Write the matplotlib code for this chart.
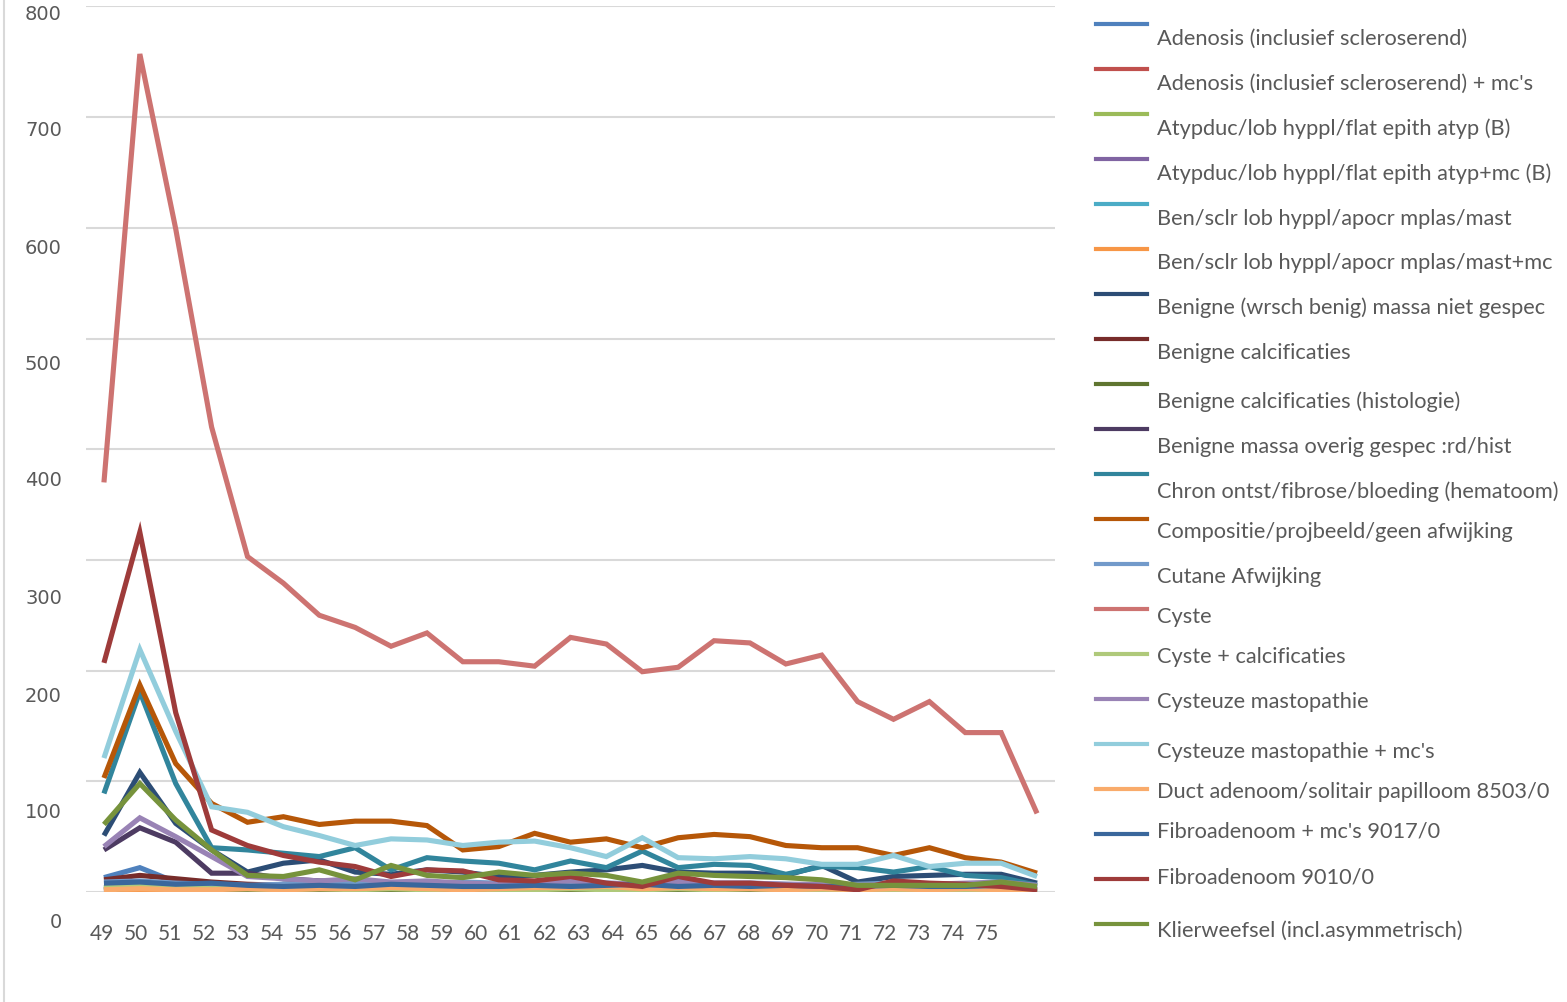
import matplotlib
matplotlib.use("Agg")
import matplotlib.pyplot as plt
from matplotlib.lines import Line2D
import numpy as np

W, H = 1567, 1002
AGES = np.arange(49, 76)

# counts per age, one list per diagnosis
adenosis = [13, 22, 9, 6, 5, 7, 6, 5, 8, 6, 5, 4, 6, 5, 4, 6, 5, 4, 5, 4, 5, 4, 6, 4, 5, 4, 3]
adenosis_mc = [3, 4, 3, 2, 2, 3, 2, 2, 3, 2, 2, 2, 3, 2, 2, 2, 3, 2, 2, 2, 2, 2, 3, 2, 2, 2, 1]
atyp = [2, 3, 2, 1, 1, 2, 1, 1, 2, 1, 1, 1, 2, 1, 1, 1, 1, 1, 2, 1, 1, 1, 1, 1, 1, 1, 0]
atyp_mc = [1, 2, 1, 1, 1, 1, 1, 0, 1, 1, 0, 1, 1, 1, 0, 1, 1, 0, 1, 1, 0, 1, 1, 0, 1, 1, 0]
ben_sclr = [4, 5, 3, 3, 2, 3, 3, 4, 2, 3, 2, 3, 2, 3, 2, 2, 3, 2, 3, 2, 2, 3, 2, 2, 3, 2, 1]
ben_sclr_mc = [1, 1, 1, 0, 1, 1, 0, 1, 1, 0, 1, 1, 0, 1, 1, 0, 1, 1, 0, 1, 0, 1, 1, 0, 1, 0, 0]
benigne_wrsch = [51, 108, 62, 38, 18, 26, 29, 18, 16, 20, 18, 14, 15, 18, 20, 24, 18, 17, 17, 15, 24, 9, 14, 15, 16, 16, 8]
benigne_calc = [11, 15, 12, 9, 7, 6, 5, 6, 5, 4, 5, 6, 4, 5, 4, 3, 5, 4, 3, 4, 3, 3, 4, 3, 3, 2, 2]
benigne_calc_hist = [2, 4, 3, 2, 2, 1, 2, 2, 1, 2, 1, 1, 2, 1, 2, 1, 1, 2, 1, 1, 2, 1, 1, 1, 1, 1, 0]
benigne_overig = [38, 58, 45, 17, 17, 12, 10, 9, 8, 9, 7, 6, 7, 6, 5, 6, 5, 5, 6, 5, 4, 4, 5, 4, 4, 3, 2]
chron = [89, 181, 98, 40, 38, 35, 32, 40, 20, 31, 28, 26, 20, 28, 22, 37, 22, 25, 24, 16, 23, 22, 18, 23, 15, 13, 6]
compositie = [103, 187, 116, 80, 63, 68, 61, 64, 64, 60, 38, 41, 53, 45, 48, 40, 49, 52, 50, 42, 40, 40, 33, 40, 31, 27, 17]
cutane = [9, 10, 8, 7, 6, 7, 8, 9, 7, 8, 9, 8, 7, 9, 8, 7, 10, 8, 8, 7, 6, 7, 8, 7, 6, 7, 5]
cyste = [370, 757, 599, 420, 303, 279, 250, 239, 222, 234, 208, 208, 204, 230, 224, 199, 203, 227, 225, 206, 214, 172, 156, 172, 144, 144, 71]
cyste_calc = [4, 6, 4, 3, 3, 2, 3, 2, 3, 2, 3, 2, 2, 3, 2, 2, 3, 2, 3, 2, 2, 2, 2, 2, 2, 2, 1]
cyst_mast = [41, 67, 50, 32, 14, 12, 10, 12, 9, 10, 8, 7, 8, 10, 8, 7, 9, 8, 8, 7, 7, 6, 7, 7, 8, 9, 6]
cyst_mast_mc = [121, 219, 145, 77, 72, 59, 51, 42, 48, 47, 42, 45, 46, 40, 32, 49, 31, 30, 32, 30, 25, 25, 33, 23, 26, 26, 14]
duct = [2, 3, 2, 2, 3, 2, 3, 3, 4, 3, 2, 3, 4, 4, 5, 3, 4, 3, 3, 2, 3, 2, 3, 2, 3, 2, 1]
fibro_mc = [8, 9, 7, 8, 6, 5, 6, 5, 7, 6, 5, 5, 6, 5, 6, 7, 5, 6, 5, 6, 5, 5, 6, 5, 5, 6, 4]
fibro = [207, 325, 162, 56, 42, 33, 27, 23, 14, 20, 19, 11, 10, 14, 8, 5, 14, 8, 8, 6, 5, 2, 10, 8, 7, 5, 2]
klier = [61, 98, 65, 38, 15, 14, 20, 11, 24, 15, 13, 18, 15, 17, 15, 9, 17, 15, 14, 13, 11, 6, 6, 6, 6, 9, 5]

names = [
    "Adenosis (inclusief scleroserend)",
    "Adenosis (inclusief scleroserend) + mc's",
    "Atypduc/lob hyppl/flat epith atyp (B)",
    "Atypduc/lob hyppl/flat epith atyp+mc (B)",
    "Ben/sclr lob hyppl/apocr mplas/mast",
    "Ben/sclr lob hyppl/apocr mplas/mast+mc",
    "Benigne (wrsch benig) massa niet gespec",
    "Benigne calcificaties",
    "Benigne calcificaties (histologie)",
    "Benigne massa overig gespec :rd/hist",
    "Chron ontst/fibrose/bloeding (hematoom)",
    "Compositie/projbeeld/geen afwijking",
    "Cutane Afwijking",
    "Cyste",
    "Cyste + calcificaties",
    "Cysteuze mastopathie",
    "Cysteuze mastopathie + mc's",
    "Duct adenoom/solitair papilloom 8503/0",
    "Fibroadenoom + mc's 9017/0",
    "Fibroadenoom 9010/0",
    "Klierweefsel (incl.asymmetrisch)",
]
series = [adenosis, adenosis_mc, atyp, atyp_mc, ben_sclr, ben_sclr_mc,
          benigne_wrsch, benigne_calc, benigne_calc_hist, benigne_overig,
          chron, compositie, cutane, cyste, cyste_calc, cyst_mast,
          cyst_mast_mc, duct, fibro_mc, fibro, klier]
colors = ["#4F81BD", "#C0504D", "#9BBB59", "#8064A2", "#4BACC6", "#F79646",
          "#2C4D75", "#772C2A", "#5F7530", "#4D3B62", "#31859C", "#B65708",
          "#729ACA", "#CD7371", "#AFC97A", "#9983B5", "#92CDDC", "#F9AB6B",
          "#3A679C", "#9E3B3A", "#77933C"]

TEXT = "#595959"
GRID = "#D9D9D9"
FONT = "Lato"

fig = plt.figure(figsize=(W / 100, H / 100), dpi=100)


def fx(px):
    return px / W


def fy(py):
    return 1 - py / H


# plot area
top, bottom, left, right = 6.4, 892, 86, 1055
ax = fig.add_axes([fx(left), fy(bottom), fx(right - left), (bottom - top) / H])
for s, c in zip(series, colors):
    ax.plot(AGES, s, color=c, lw=3.7, solid_joinstyle="miter", solid_capstyle="butt")
ax.set_xlim(48.5, 75.5)
ax.set_ylim(0, 800)
ax.set_yticks(range(0, 801, 100))
ax.grid(axis="y", color=GRID, lw=1.5)
ax.set_axisbelow(True)
ax.tick_params(length=0, labelleft=False, labelbottom=False)
for sp in ax.spines.values():
    sp.set_visible(False)

# y labels
ylab_pos = [922, 812, 697, 598, 481, 364, 248, 130, 14]
for py, v in zip(ylab_pos, range(0, 801, 100)):
    fig.text(fx(62), fy(py), str(v), ha="right", va="center", fontsize=14,
             color=TEXT, family="DejaVu Sans")

# x labels
xlab = fig.add_axes([fx(102), fy(931), fx(987 - 102), 0.0001])
xlab.set_xlim(49, 75)
xlab.set_xticks(AGES)
xlab.set_xticklabels([str(a) for a in AGES], fontsize=15, color=TEXT, family=FONT)
xlab.tick_params(length=0, pad=-5, left=False, labelleft=False)
xlab.patch.set_visible(False)
for sp in xlab.spines.values():
    sp.set_visible(False)

# legend drawn by hand: handle above, label below
text_y = [39, 84, 129, 174, 219, 263, 308, 353, 402, 447, 492, 532, 577, 617,
          657, 702, 752, 792, 832, 877, 931]
for i, (n, c) in enumerate(zip(names, colors)):
    hy = 24 + 45 * i
    fig.add_artist(Line2D([fx(1096), fx(1147)], [fy(hy), fy(hy)], color=c, lw=3))
    fig.text(fx(1157), fy(text_y[i]), n, ha="left", va="center", fontsize=15.7,
             color=TEXT, family=FONT)

fig.add_artist(Line2D([fx(4), fx(4)], [0, 1], color=GRID, lw=1.5))

fig.savefig("out.png", dpi=100)
